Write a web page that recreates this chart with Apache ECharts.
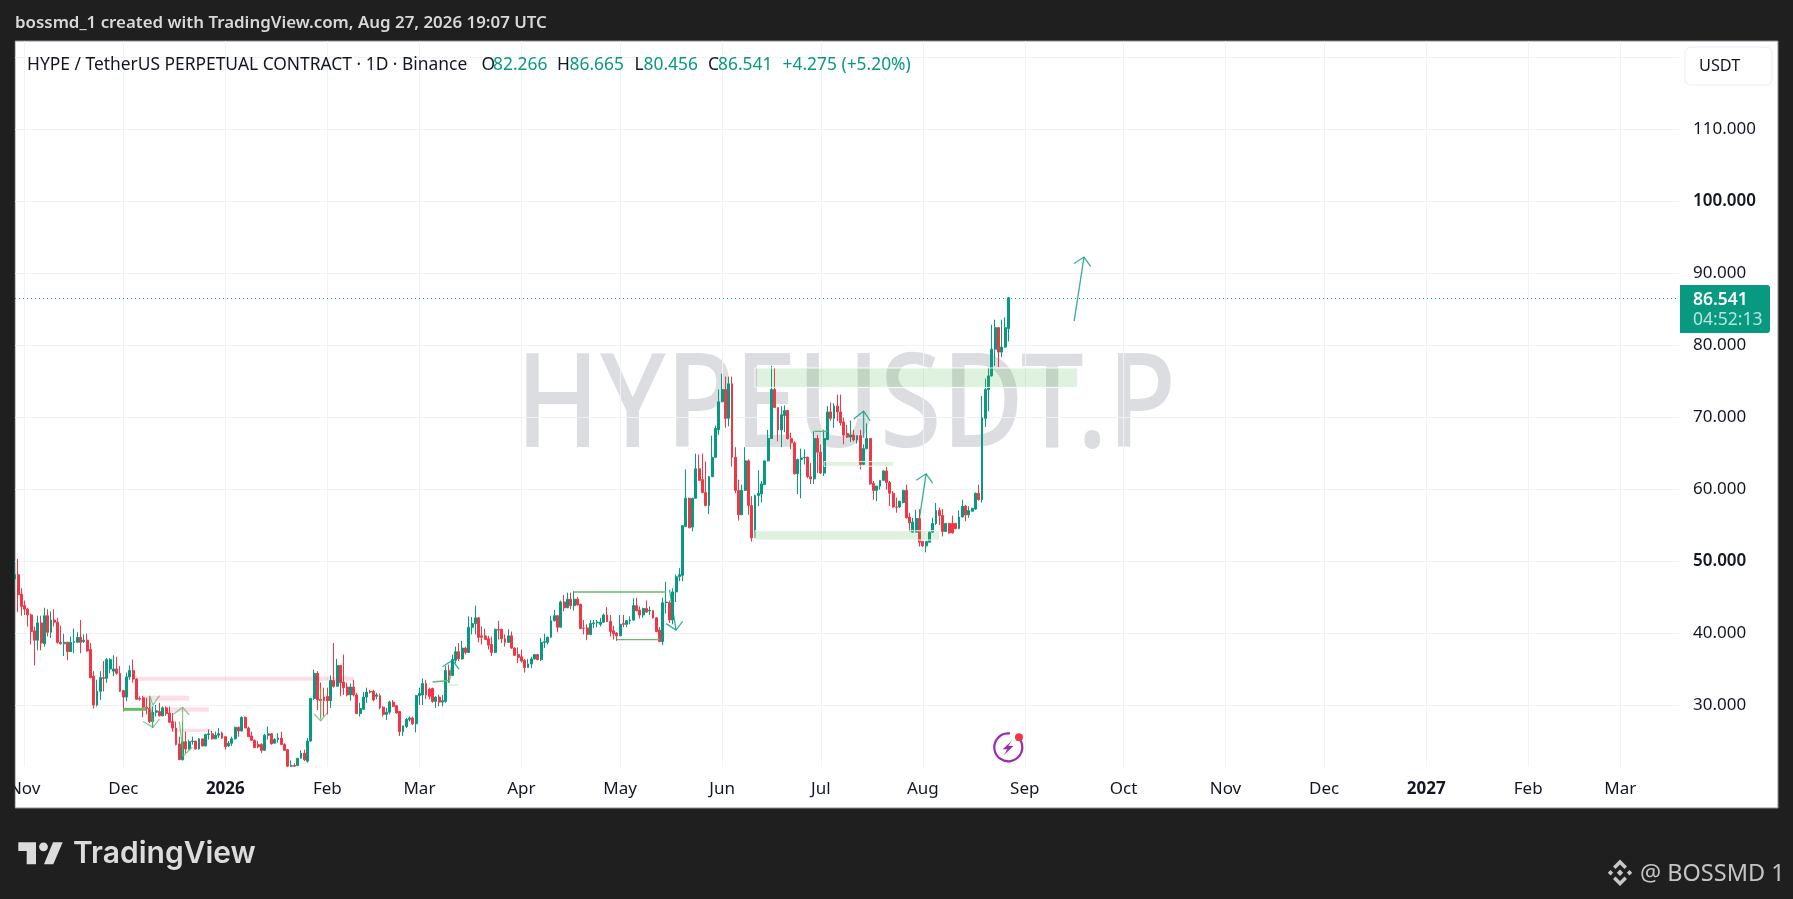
<!DOCTYPE html>
<html><head><meta charset="utf-8">
<style>html,body{margin:0;padding:0;background:#1f1f1f}#c{width:1793px;height:899px}</style>
<script src="https://cdn.jsdelivr.net/npm/echarts@6/dist/echarts.min.js"></script>
</head><body><div id="c"></div>
<script>
// Daily candles, rows are [open, close, low, high]
const oct25=[[47.5,48.1,45.6,50.2],[48.1,45.3,42.9,50.3],[45.4,43.7,42.4,46.2]];
const nov25=[[43.8,43.3,42.5,44.5],[43.3,42.5,40.9,43.5],[42.5,40.2,38.4,42.7],[40.3,39.0,35.5,40.9],[39.0,41.4,37.6,42.4],[41.4,38.6,37.6,42.4],[38.5,42.4,38.1,43.5],[42.4,40.1,39.5,43.3],[40.1,41.8,39.3,43.0],[41.8,41.5,40.9,43.3],
[41.5,38.7,38.5,42.1],[38.7,38.5,38.4,41.0],[38.5,38.7,36.8,39.9],[38.7,37.4,36.2,38.8],[37.4,38.7,37.4,39.5],[38.7,38.8,37.2,40.6],[38.7,39.4,38.6,40.1],[39.4,38.7,37.2,41.8],[38.8,39.0,38.6,39.8],[39.0,37.5,37.4,39.9],
[37.7,33.8,33.7,38.6],[34.0,30.0,29.5,34.7],[30.0,31.9,29.8,33.5],[31.9,33.8,30.7,34.7],[33.8,33.7,31.9,36.1],[33.7,36.3,33.1,36.5],[35.0,36.3,34.4,36.5],[34.7,35.0,34.0,36.9],[35.0,34.4,34.2,36.7],[34.4,31.9,31.8,35.4]];
const dec25=[[32.0,31.1,29.1,32.1],[31.1,33.9,30.5,34.5],[33.9,34.8,33.5,35.5],[34.8,33.6,33.1,36.3],[33.6,30.8,30.7,33.7],[30.9,30.8,30.6,31.2],[31.0,29.7,28.3,31.3],[29.7,29.5,28.7,31.0],[29.5,27.7,27.5,31.2],[27.7,29.0,26.8,29.8],
[29.0,29.2,28.4,30.0],[29.1,28.5,28.4,30.3],[28.5,29.6,28.4,29.8],[29.6,28.8,28.5,29.8],[28.9,27.6,27.5,29.8],[27.7,26.8,26.3,28.9],[26.8,24.5,24.4,27.7],[24.6,22.4,22.4,25.6],[22.4,24.9,22.3,27.7],[24.9,23.9,23.3,26.3],
[23.9,24.9,23.8,25.2],[24.9,25.0,24.5,25.6],[25.0,23.9,23.8,25.0],[23.9,25.3,23.8,25.4],[25.3,24.3,24.3,25.3],[24.3,25.9,24.3,26.0],[25.9,26.0,25.2,26.6],[26.0,25.3,25.2,26.4],[25.3,25.8,25.3,26.3],[25.8,26.0,25.4,26.8],[26.1,25.4,25.3,26.3]];
const jan26=[[25.6,24.2,23.8,25.6],[24.3,24.7,24.2,25.0],[24.7,25.3,24.3,25.6],[25.3,26.9,25.2,27.0],[26.9,26.4,25.6,27.0],[26.4,28.3,26.3,28.4],[28.3,26.8,26.8,28.4],[26.8,25.6,25.6,27.0],[25.7,25.1,25.0,26.3],[25.1,24.1,24.0,25.2],
[24.5,24.2,24.0,25.0],[24.5,23.7,23.3,24.7],[23.7,25.8,23.7,26.0],[25.8,26.0,25.2,27.0],[26.0,24.6,24.5,26.1],[24.7,25.2,24.7,25.4],[25.2,25.4,24.8,26.1],[25.4,24.5,24.5,26.3],[24.5,23.7,23.6,24.7],[23.8,21.5,21.4,23.9],
[21.5,21.6,21.4,22.3],[21.6,21.5,21.4,21.9],[21.6,22.6,21.5,22.6],[22.6,23.3,22.6,23.7],[23.3,22.4,22.2,23.8],[22.2,25.0,22.0,25.4],[25.0,30.9,24.9,31.0],[30.9,34.4,30.7,34.9],[34.4,30.7,29.3,34.7],[30.8,30.6,28.2,33.1],[31.1,30.6,28.4,32.4]];
const feb26=[[31.2,30.6,28.7,32.4],[30.6,33.4,29.6,34.1],[33.4,32.6,32.4,38.6],[32.6,35.5,32.6,36.4],[35.5,33.1,31.2,35.5],[33.2,32.4,31.4,37.0],[32.5,31.4,31.2,33.1],[31.4,32.5,30.6,33.0],[32.5,31.4,31.2,33.5],[31.4,28.8,28.8,31.7],
[28.8,29.5,28.4,30.3],[29.4,31.1,29.4,31.8],[31.1,31.8,30.3,32.4],[31.9,31.8,31.6,32.1],[31.9,30.7,30.5,32.1],[31.2,31.4,30.8,31.7],[31.3,29.6,29.4,31.6],[29.7,28.7,28.4,29.8],[28.7,29.0,27.9,29.6],[29.0,30.4,28.7,30.6],
[30.4,29.8,29.7,30.7],[29.9,28.9,28.8,30.0],[29.1,26.3,25.7,29.1],[26.3,27.1,25.7,27.1],[27.0,28.0,26.8,28.2],[28.0,28.2,27.7,28.4],[28.2,27.4,27.2,28.4],[27.4,31.3,26.2,31.4]];
const mar26=[[31.3,31.6,30.0,32.4],[31.4,33.0,30.0,33.7],[33.0,31.4,30.8,33.5],[32.2,31.2,30.8,32.4],[32.3,30.5,30.3,32.4],[30.5,31.1,29.6,31.2],[31.1,30.4,29.8,31.4],[30.4,30.6,29.8,31.4],[30.5,34.8,30.3,35.4],[34.8,34.1,33.1,35.6],
[34.1,36.3,34.0,37.0],[36.2,37.4,35.8,38.1],[37.4,36.4,36.1,38.6],[36.4,37.9,36.3,38.9],[37.9,37.3,37.0,38.1],[37.3,40.8,37.3,42.3],[40.8,41.3,39.8,42.2],[41.3,42.1,39.8,43.8],[42.1,39.4,38.7,42.2],[39.6,39.4,38.4,40.9],
[39.6,39.1,39.1,40.6],[39.2,38.3,37.7,39.6],[38.4,37.3,36.8,39.5],[37.3,40.5,37.2,40.6],[40.5,40.4,39.1,41.7],[40.5,39.2,38.6,40.6],[39.2,38.7,38.1,39.8],[38.7,39.6,38.6,40.5],[39.6,37.9,37.8,40.2],[37.9,36.9,36.8,38.0],[37.0,36.6,35.8,38.0]];
const apr26=[[36.7,36.1,35.9,37.7],[36.2,35.2,34.5,36.4],[35.2,35.7,35.2,36.4],[35.7,36.4,35.1,36.7],[36.4,37.0,36.3,37.1],[37.0,36.3,36.2,37.1],[36.3,38.7,36.1,39.3],[38.7,38.8,37.9,39.9],[38.7,39.4,38.4,39.5],[39.4,41.7,39.4,42.4],
[41.7,42.4,41.6,43.2],[42.4,40.8,40.1,42.5],[40.8,44.3,40.8,44.5],[44.3,43.5,43.0,45.3],[43.5,44.7,43.5,45.6],[44.7,43.8,43.3,45.6],[43.8,44.7,43.1,45.8],[44.7,43.9,43.8,45.0],[44.0,40.6,40.6,44.0],[40.7,40.65,39.8,41.8],
[40.7,39.8,39.0,41.2],[39.8,41.3,39.7,41.8],[41.3,41.4,40.7,41.8],[41.4,41.5,40.8,41.8],[41.2,41.5,40.9,42.1],[41.5,42.5,41.4,42.7],[42.5,41.6,41.5,43.6],[41.6,40.2,39.5,42.5],[40.3,39.9,39.1,41.0],[40.0,39.6,38.9,40.1]];
const may26=[[39.6,41.2,39.6,42.5],[41.3,41.2,40.8,42.5],[41.2,41.7,40.8,41.8],[41.7,41.8,41.2,42.3],[41.8,43.8,41.7,44.8],[43.8,43.1,43.0,44.9],[43.2,42.5,42.0,43.7],[42.5,43.4,42.1,43.5],[43.4,42.9,42.8,44.5],[43.05,43.15,42.5,43.7],
[43.1,42.1,42.0,43.2],[42.1,40.2,40.1,42.2],[40.4,38.8,38.8,40.8],[38.8,44.2,38.3,44.9],[44.2,44.3,42.7,47.1],[44.2,41.8,41.4,44.5],[41.8,45.7,41.2,46.2],[45.7,47.8,44.3,48.1],[47.8,48.1,47.2,49.0],[48.0,54.9,47.2,54.9],
[54.8,58.7,54.8,62.7],[58.7,54.6,54.6,58.8],[54.7,58.7,54.1,58.8],[58.7,62.8,58.7,64.9],[62.8,61.2,61.1,64.8],[61.3,59.5,59.4,64.9],[59.5,57.7,57.6,63.8],[57.7,61.7,56.5,61.8],[61.7,64.4,61.7,67.4],[64.4,68.4,64.3,68.8],[68.2,72.1,67.5,73.8]];
const jun26=[[72.1,73.8,72.1,76.0],[73.8,69.8,68.5,75.6],[69.8,74.6,68.7,75.6],[74.6,64.4,63.1,75.6],[64.4,59.8,59.4,65.8],[59.8,56.4,55.6,61.3],[56.4,59.8,56.4,60.6],[59.8,63.9,59.7,65.8],[63.9,57.7,56.4,64.1],[57.7,53.2,52.7,59.0],
[53.2,59.1,53.2,59.2],[59.1,59.4,57.6,62.6],[59.3,60.7,58.1,61.1],[60.6,63.9,60.6,63.9],[63.9,67.0,63.8,68.2],[67.0,73.8,67.0,77.1],[73.8,71.3,71.3,76.8],[71.3,68.2,66.6,71.3],[68.2,70.3,65.8,71.5],[70.2,70.9,67.9,71.6],
[70.9,67.0,66.85,71.0],[67.0,66.4,65.5,67.8],[66.4,62.1,62.0,66.6],[62.1,64.1,59.3,64.2],[64.1,64.3,58.7,65.6],[64.3,64.4,63.4,65.5],[64.4,61.7,61.5,64.5],[61.7,61.4,60.7,63.6],[61.4,67.0,60.7,68.0],[67.0,65.1,62.2,67.5]];
const jul26=[[65.1,62.2,62.1,66.2],[62.2,67.0,61.8,68.2],[66.85,70.7,66.8,71.5],[70.7,69.8,69.5,72.0],[69.8,71.5,68.5,71.9],[71.5,70.7,69.4,73.1],[70.7,69.2,68.8,73.1],[69.3,67.5,66.2,69.9],[67.7,67.2,67.1,68.9],[67.2,67.5,66.5,69.5],
[67.5,66.8,66.6,68.2],[66.8,67.4,66.3,67.4],[67.4,63.4,62.7,68.2],[63.4,65.6,63.4,66.2],[65.6,67.0,65.5,69.1],[67.0,60.7,60.6,67.0],[60.8,59.8,58.5,61.1],[59.8,60.4,58.3,60.4],[60.4,61.2,59.9,61.2],[61.2,62.5,61.1,62.6],
[62.5,60.9,59.9,63.1],[60.9,59.4,57.6,61.1],[59.4,57.5,57.4,59.7],[57.5,57.45,56.7,58.8],[57.5,58.3,57.3,58.3],[58.1,59.8,58.0,59.9],[59.8,56.0,55.9,60.6],[56.1,55.3,54.1,56.7],[54.0,55.4,54.0,56.0],[54.0,55.9,54.0,57.1],[55.9,52.6,52.0,57.2]];
const aug26=[[52.7,52.1,51.9,52.7],[52.1,52.7,51.2,52.7],[52.6,54.0,52.6,54.1],[54.0,55.2,53.9,56.0],[55.2,57.0,55.0,58.05],[57.0,56.3,55.0,57.4],[56.3,54.1,53.4,57.2],[54.1,55.2,54.0,55.3],[55.2,53.9,53.8,55.3],[55.2,53.9,53.8,56.3],
[55.2,54.5,54.4,55.3],[54.5,56.1,54.4,57.0],[56.1,57.6,56.1,58.5],[57.6,56.4,55.5,57.8],[56.4,57.0,56.0,57.6],[56.9,57.3,56.9,57.4],[57.2,59.4,57.1,59.5],[59.4,58.5,58.4,60.6],[58.5,69.9,58.1,72.9],[69.8,73.8,68.6,75.3],
[73.8,75.7,70.8,76.8],[75.7,79.4,75.6,82.8],[79.4,82.4,77.1,83.5],[82.4,79.0,76.9,82.4],[79.0,79.7,78.3,83.5],[79.7,82.4,79.6,83.8],[82.266,86.541,80.456,86.665]];
const monthStarts=[['2025-10-29',oct25],['2025-11-01',nov25],['2025-12-01',dec25],['2026-01-01',jan26],['2026-02-01',feb26],['2026-03-01',mar26],['2026-04-01',apr26],['2026-05-01',may26],['2026-06-01',jun26],['2026-07-01',jul26],['2026-08-01',aug26]];

// Axis ticks
const tickDates=['2025-11-01','2025-12-01','2026-01-01','2026-02-01','2026-03-01','2026-04-01','2026-05-01','2026-06-01','2026-07-01','2026-08-01','2026-09-01','2026-10-01','2026-11-01','2026-12-01','2027-01-01','2027-02-01','2027-03-01'];
const tickNames=['Nov','Dec','2026','Feb','Mar','Apr','May','Jun','Jul','Aug','Sep','Oct','Nov','Dec','2027','Feb','Mar'];
const priceTicks=[30,40,50,60,70,80,90,100,110,120];
const priceLabels=[30,40,50,60,70,80,90,100,110];
const boldTicks=[50,100];

// Drawings on the chart, [start, end, low, high]
const greenZones=[['2026-06-11','2026-09-17',74.1,76.8],['2026-07-02','2026-07-23',63.15,63.8],['2026-06-11','2026-08-06',52.9,54.2],['2026-03-10','2026-03-13',32.55,33.0]];
const pinkZones=[['2025-12-05','2026-02-09',33.38,33.93],['2025-12-07','2025-12-21',30.6,31.29],['2025-12-15','2025-12-27',29.07,29.67],['2025-12-16','2025-12-28',26.25,26.71]];
const greenLines=[[['2026-04-17',45.69],['2026-05-15',45.69]],[['2026-04-30',39.07],['2026-05-13',39.07]],[['2026-06-29',68],['2026-07-03',68]],[['2026-03-05',33.2],['2026-03-10',33.4]]];
const thickLines=[[['2025-12-01',29.4],['2025-12-08',29.4]]];
const lightArrows=[
 [['2025-12-09',31.2],['2025-12-10',26.9]],[['2025-12-07',27.7],['2025-12-10',26.9],['2025-12-12',28.05]],
 [['2025-12-09',31.3],['2025-12-10',30.0],['2025-12-12',31.3]],
 [['2025-12-19',29.67],['2025-12-19',22.85]],[['2025-12-16',28.65],['2025-12-19',29.67],['2025-12-21',28.65]],
 [['2025-12-18',27.7],['2025-12-19',24.1]],[['2025-12-19',22.85],['2025-12-22',24.15]],
 [['2026-01-28',28.75],['2026-01-30',27.8],['2026-02-01',28.9]],[['2026-01-30',32.3],['2026-01-30',27.8]]];
const tealArrows=[
 [['2026-03-10',33.05],['2026-03-11',36.2]],[['2026-03-08',35.3],['2026-03-11',36.2],['2026-03-13',35.0]],
 [['2026-05-16',46.0],['2026-05-18',40.4]],[['2026-05-15',41.3],['2026-05-18',40.4],['2026-05-20',41.6]],
 [['2026-07-14',67.1],['2026-07-14',70.8]],[['2026-07-11',69.7],['2026-07-14',70.8],['2026-07-16',69.5]],
 [['2026-07-31',55.97],['2026-08-02',62.1]],[['2026-07-30',61.2],['2026-08-02',62.1],['2026-08-04',60.8]],
 [['2026-09-16',83.3],['2026-09-19',92.2]],[['2026-09-16',91.3],['2026-09-19',92.2],['2026-09-21',90.9]]];

const lastPrice=86.541;
const countdown='04:52:13';
const symbolName='HYPE / TetherUS PERPETUAL CONTRACT · 1D · Binance';
const ohlcText=[['O','82.266'],['H','86.665'],['L','80.456'],['C','86.541']];
const changeText='+4.275 (+5.20%)';

const DAY=86400000;
const ts=s=>Date.parse(s+'T00:00:00Z');
const GREEN='#089981',RED='#f23645',GRID='#f0f2f5',INK='#131722',DARK='#1f1f1f';
const FONT='"Noto Sans"';
const rows=[];
monthStarts.forEach(([start,list])=>list.forEach((r,i)=>rows.push([ts(start)+i*DAY,r[0],r[1],r[2],r[3]])));
const tickMs=tickDates.map(ts);

const xMin=ts('2025-12-01')-32.93*DAY, xMax=xMin+505.78*DAY;

function zoneSeries(list,fill,stroke){
 return {type:'custom',z:5,silent:true,clip:true,encode:{x:0,y:1},
  data:list.map(z=>[ts(z[0]),z[2]]),
  renderItem(p,api){
   const z=list[p.dataIndex],a=api.coord([ts(z[0]),z[3]]),b=api.coord([ts(z[1]),z[2]]);
   return {type:'rect',shape:{x:a[0],y:a[1],width:b[0]-a[0],height:b[1]-a[1]},style:{fill,stroke:stroke||null,lineWidth:1}};
  }};
}
function pathSeries(list,color,width){
 return {type:'custom',z:6,silent:true,clip:true,encode:{x:0,y:1},
  data:list.map(l=>[ts(l[0][0]),l[0][1]]),
  renderItem(p,api){
   const pts=list[p.dataIndex].map(q=>api.coord([ts(q[0]),q[1]]));
   return {type:'polyline',shape:{points:pts},style:{fill:null,stroke:color,lineWidth:width}};
  }};
}
const T=(x,y,text,o)=>({type:'text',x,y,z:200,silent:true,style:Object.assign({text,fontFamily:FONT,fontSize:17.4,fill:INK,verticalAlign:'middle'},o||{})});
const poly=(pts,fill,z)=>({type:'polygon',z:z||200,silent:true,shape:{points:pts},style:{fill}});

const graphic=[
 {type:'rect',z:-10,silent:true,shape:{x:15,y:41,width:1763,height:767},style:{fill:'#fff',stroke:'#8f8f8f',lineWidth:1}},
 Object.assign(T(846,410,'HYPEUSDT.P',{fontSize:130,fontWeight:500,fill:'#dcdde0',textAlign:'center',verticalAlign:'middle'}),{z:-5,scaleX:0.865}),
 // margins over the clipped first axis label
 {type:'rect',z:150,silent:true,shape:{x:0,y:41,width:14.5,height:767},style:{fill:DARK}},
 T(15,23,'bossmd_1 created with TradingView.com, Aug 27, 2026 19:07 UTC',{fontSize:16.9,fontWeight:600,fill:'#d8d8d8'}),
 T(27,65,symbolName),
 T(481.5,65,ohlcText[0][0]),T(493,65,ohlcText[0][1],{fill:GREEN}),
 T(557,65,ohlcText[1][0]),T(569.5,65,ohlcText[1][1],{fill:GREEN}),
 T(634.5,65,ohlcText[2][0]),T(643.5,65,ohlcText[2][1],{fill:GREEN}),
 T(708,65,ohlcText[3][0]),T(718,65,ohlcText[3][1],{fill:GREEN}),
 T(782.5,65,changeText,{fill:GREEN}),
 {type:'rect',z:20,silent:true,shape:{x:1685,y:47,width:87,height:38,r:6},style:{fill:'#fff',stroke:'#f0f3fa',lineWidth:1.5}},
 T(1699,66,'USDT',{fontSize:16.3}),
 {type:'rect',z:20,silent:true,shape:{x:1680,y:285,width:90,height:48,r:[0,3,3,0]},style:{fill:GREEN}},
 T(1693,300,lastPrice.toFixed(3),{fontSize:17.5,fontWeight:600,fill:'#fff'}),
 T(1693,320,countdown,{fontSize:17.5,fill:'rgba(255,255,255,0.72)'}),
 // news icon
 {type:'arc',z:30,silent:true,shape:{cx:1008.3,cy:747.3,r:14,startAngle:-0.95,endAngle:-1.45,clockwise:true},style:{fill:null,stroke:'#9c27b0',lineWidth:2.2}},
 poly([[1011.7,740.7],[1002.7,749.3],[1007.3,749.3],[1004,755],[1013.3,746],[1008.3,746]],'#9c27b0',30),
 {type:'circle',z:31,silent:true,shape:{cx:1019,cy:737.3,r:4},style:{fill:RED}},
 // TradingView mark
 poly([[18.3,842.3],[36,842.3],[36,864.3],[26.7,864.3],[26.7,851],[18.3,851]],'#dcdcdc'),
 {type:'circle',z:200,silent:true,shape:{cx:43.5,cy:846.8,r:4.4},style:{fill:'#dcdcdc'}},
 poly([[53,842.3],[62.7,842.3],[53.3,864.3],[44,864.3]],'#dcdcdc'),
 T(73,854,'TradingView',{fontFamily:'Inter',fontSize:30,fontWeight:600,fill:'#dcdcdc'}),
 // Binance mark
 poly([[1620,859.5],[1627,866.5],[1624.5,869],[1620,864.5],[1615.5,869],[1613,866.5]],'#c8c8c8'),
 poly([[1620,886],[1627,879],[1624.5,876.5],[1620,881],[1615.5,876.5],[1613,879]],'#c8c8c8'),
 poly([[1620,869.5],[1623.2,872.7],[1620,875.9],[1616.8,872.7]],'#c8c8c8'),
 poly([[1610.5,870],[1613.2,872.7],[1610.5,875.4],[1607.8,872.7]],'#c8c8c8'),
 poly([[1629.5,870],[1632.2,872.7],[1629.5,875.4],[1626.8,872.7]],'#c8c8c8'),
 T(1640,874,'@ BOSSMD 1',{fontSize:23.5,fill:'#c4c4c4'})
];

const chart=echarts.init(document.getElementById('c'),null,{renderer:'canvas'});
chart.setOption({
 animation:false,backgroundColor:DARK,graphic:{elements:graphic},
 grid:{left:15,right:114,top:41,bottom:132,containLabel:false},
 xAxis:{type:'value',min:xMin,max:xMax,scale:true,
  axisLine:{show:false},
  axisTick:{show:false,customValues:tickMs},
  splitLine:{show:true,lineStyle:{color:GRID,width:1}},
  axisLabel:{customValues:tickMs,margin:14,hideOverlap:false,showMinLabel:true,showMaxLabel:true,
   fontFamily:FONT,fontSize:17,color:INK,
   formatter:v=>{const i=tickMs.indexOf(v),n=tickNames[i];return /^\d/.test(n)?'{b|'+n+'}':n;},
   rich:{b:{fontFamily:FONT,fontSize:17,fontWeight:700,color:INK}}}},
 yAxis:{type:'value',position:'right',min:21.39,max:122.2,scale:true,
  axisLine:{show:false},
  axisTick:{show:false,customValues:priceTicks},
  splitLine:{show:true,lineStyle:{color:GRID,width:1}},
  axisLabel:{customValues:priceLabels,margin:14,fontFamily:FONT,fontSize:17,color:INK,
   formatter:v=>boldTicks.includes(v)?'{b|'+v.toFixed(3)+'}':v.toFixed(3),
   rich:{b:{fontFamily:FONT,fontSize:17,fontWeight:600,color:INK}}}},
 series:[
  {type:'candlestick',z:3,silent:true,data:rows,encode:{x:0,y:[1,2,3,4]},barWidth:2.4,
   itemStyle:{color:GREEN,color0:RED,borderColor:GREEN,borderColor0:RED,borderColorDoji:GREEN,borderWidth:1},
   markLine:{silent:true,symbol:'none',animation:false,label:{show:false},
    lineStyle:{type:[1,3],color:GREEN,width:1},data:[{yAxis:lastPrice}]}},
  zoneSeries(greenZones,'rgba(76,175,80,0.18)','rgba(255,255,255,0.9)'),
  zoneSeries(pinkZones,'rgba(233,30,99,0.15)'),
  pathSeries(greenLines,'#66bb6a',1.4),
  pathSeries(thickLines,'#66bb6a',3),
  pathSeries(lightArrows,'rgba(102,187,106,0.75)',1.3),
  pathSeries(tealArrows,'rgba(8,153,129,0.8)',1.3)
 ]
});
</script></body></html>
